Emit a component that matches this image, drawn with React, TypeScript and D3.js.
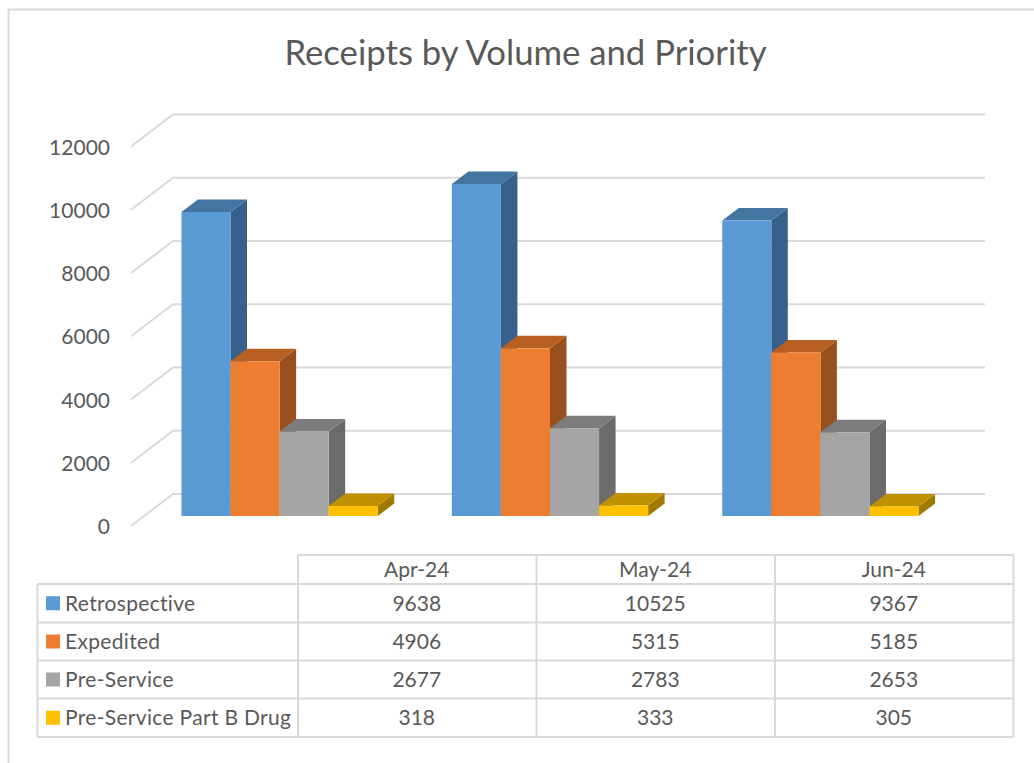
// App.tsx
import React, { useRef, useEffect } from "react";
import * as d3 from "d3";

const months = ["Apr-24", "May-24", "Jun-24"];
const seriesNames = ["Retrospective", "Expedited", "Pre-Service", "Pre-Service Part B Drug"];
const retrospective = [9638, 10525, 9367];
const expedited = [4906, 5315, 5185];
const preService = [2677, 2783, 2653];
const partBDrug = [318, 333, 305];
const yTicks = [0, 2000, 4000, 6000, 8000, 10000, 12000];

const seriesValues = [retrospective, expedited, preService, partBDrug];
const frontColors = ["#5b9bd5", "#ed7d31", "#a5a5a5", "#ffc000"];
const topColors = ["#4475a0", "#b85f24", "#7c7c7c", "#bf9000"];
const sideColors = ["#37618a", "#9a501e", "#6b6b6b", "#a07a00"];

const FONT = "Lato, 'Open Sans', sans-serif";
const TEXT = "#595959";
const LINE = "#d9d9d9";

const App = () => {
  const svgRef = useRef<SVGSVGElement>(null);

  useEffect(() => {
    const svg = d3.select(svgRef.current);
    svg.selectAll("*").remove();

    // outer frame, only left and top are visible in the crop
    svg
      .append("path")
      .attr("d", "M8.5,763V9.5H1034")
      .attr("fill", "none")
      .attr("stroke", LINE)
      .attr("stroke-width", 2);

    svg
      .append("text")
      .attr("x", 525.5)
      .attr("y", 65)
      .attr("text-anchor", "middle")
      .attr("font-family", FONT)
      .attr("font-size", 34.7)
      .attr("fill", TEXT)
      .text("Receipts by Volume and Priority");

    // wall depth and bar depth of the fake 3D
    const wallX = 42;
    const wallY = -32;
    const barDX = 16.5;
    const barDY = -12.5;

    const yWall = d3.scaleLinear().domain([0, 12000]).range([526, 146.5]);
    const yBar = d3.scaleLinear().domain([0, 12000]).range([516, 137.5]);

    const x0 = d3
      .scaleBand()
      .domain(months)
      .range([144.4, 955.6])
      .paddingInner(0.274)
      .paddingOuter(0.137);
    const x1 = d3
      .scaleBand()
      .domain(seriesNames)
      .range([0, x0.bandwidth()]);

    // gridlines
    svg
      .append("g")
      .selectAll("path")
      .data(yTicks)
      .enter()
      .append("path")
      .attr(
        "d",
        (d) =>
          `M131,${yWall(d)}L${131 + wallX},${yWall(d) + wallY}H985`
      )
      .attr("fill", "none")
      .attr("stroke", LINE)
      .attr("stroke-width", 2);

    // y axis labels
    const axis = svg
      .append("g")
      .attr("transform", "translate(110,1)")
      .call(
        d3
          .axisLeft(yWall)
          .tickValues(yTicks)
          .tickSize(0)
          .tickPadding(0)
          .tickFormat((d) => String(d))
      );
    axis.select(".domain").remove();
    axis
      .selectAll("text")
      .attr("font-family", FONT)
      .attr("font-size", 21)
      .attr("fill", TEXT);

    // bars: left to right so each one covers the side of the previous one
    months.forEach((month, m) => {
      seriesNames.forEach((name, s) => {
        const value = seriesValues[s][m];
        const left = x0(month)! + x1(name)!;
        const right = left + x1.bandwidth();
        const top = yBar(value);
        const bottom = yBar(0);
        const g = svg.append("g");
        g.append("path")
          .attr(
            "d",
            `M${right},${top}L${right + barDX},${top + barDY}V${bottom + barDY}L${right},${bottom}Z`
          )
          .attr("fill", sideColors[s]);
        g.append("path")
          .attr(
            "d",
            `M${left},${top}L${left + barDX},${top + barDY}H${right + barDX}L${right},${top}Z`
          )
          .attr("fill", topColors[s]);
        g.append("rect")
          .attr("x", left)
          .attr("y", top)
          .attr("width", x1.bandwidth())
          .attr("height", bottom - top)
          .attr("fill", frontColors[s]);
      });
    });

    // data table
    const tableX = [37.5, 298, 536.5, 775, 1013.5];
    const tableY = [555, 584, 622.5, 660.5, 698.5, 737];
    const table = svg.append("g").attr("font-family", FONT).attr("fill", TEXT);
    const rule = (x1v: number, y1v: number, x2v: number, y2v: number) =>
      table
        .append("line")
        .attr("x1", x1v)
        .attr("y1", y1v)
        .attr("x2", x2v)
        .attr("y2", y2v)
        .attr("stroke", LINE)
        .attr("stroke-width", 2);

    rule(tableX[1], tableY[0], tableX[4], tableY[0]);
    tableY.slice(1).forEach((y) => rule(tableX[0], y, tableX[4], y));
    rule(tableX[0], tableY[1], tableX[0], tableY[5]);
    tableX.slice(1).forEach((x) => rule(x, tableY[0], x, tableY[5]));

    const cell = (x: number, y: number, label: string, anchor: string) =>
      table
        .append("text")
        .attr("x", x)
        .attr("y", y)
        .attr("text-anchor", anchor)
        .attr("dominant-baseline", "central")
        .attr("font-size", 21)
        .text(label);

    months.forEach((month, m) => {
      const cx = (tableX[m + 1] + tableX[m + 2]) / 2 - 0.5;
      cell(cx, (tableY[0] + tableY[1]) / 2 - 1.5, month, "middle");
      seriesValues.forEach((values, s) => {
        cell(cx, (tableY[s + 1] + tableY[s + 2]) / 2 - 1, String(values[m]), "middle");
      });
    });

    seriesNames.forEach((name, s) => {
      const cy = (tableY[s + 1] + tableY[s + 2]) / 2;
      table
        .append("rect")
        .attr("x", 46)
        .attr("y", cy - 7)
        .attr("width", 14)
        .attr("height", 14)
        .attr("fill", frontColors[s]);
      cell(65, cy - 1, name, "start").attr("letter-spacing", 0.32);
    });
  }, []);

  return (
    <svg
      ref={svgRef}
      width={1034}
      height={763}
      style={{ position: "absolute", left: 0, top: 0, background: "#fff" }}
    ></svg>
  );
};

export default App;
